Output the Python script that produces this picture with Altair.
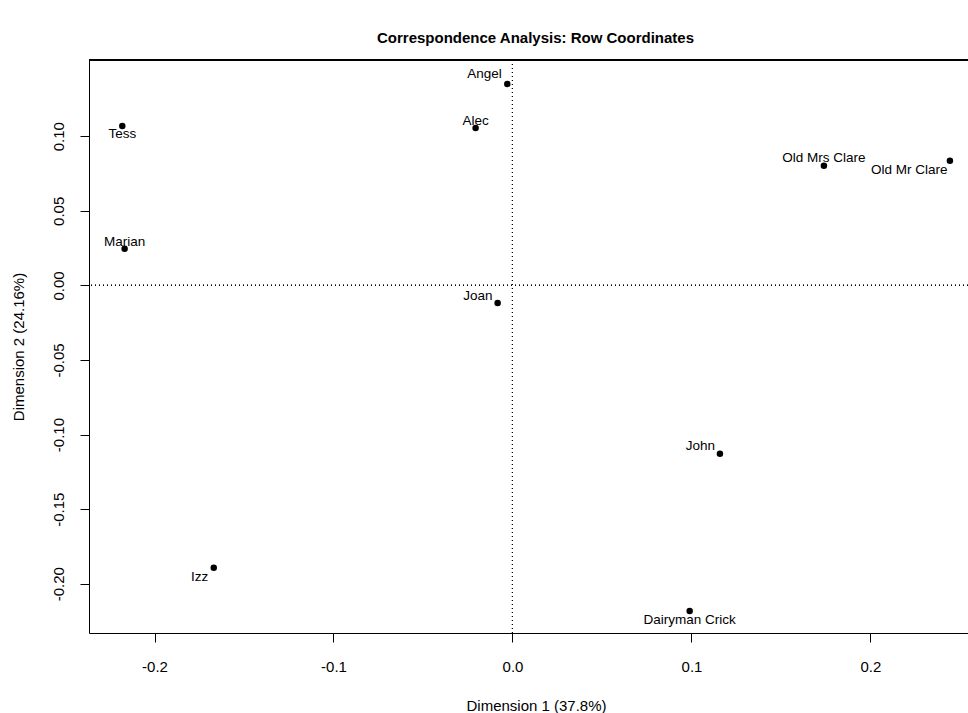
import altair as alt
import pandas as pd

# ---- data ----
names = ["Angel", "Alec", "Tess", "Old Mrs Clare", "Old Mr Clare",
         "Marian", "Joan", "John", "Izz", "Dairyman Crick"]
dim1 = [-0.0029, -0.0206, -0.2180, 0.1740, 0.2444,
        -0.2167, -0.0083, 0.1159, -0.1669, 0.0990]
dim2 = [0.1350, 0.1055, 0.1068, 0.0802, 0.0836,
        0.0246, -0.0118, -0.1128, -0.1892, -0.2182]
x_ticks = [-0.2, -0.1, 0.0, 0.1, 0.2]
y_ticks = [-0.20, -0.15, -0.10, -0.05, 0.00, 0.05, 0.10]
x_domain = [-0.2366, 0.2545]
y_domain = [-0.2330, 0.1511]

title_text = "Correspondence Analysis: Row Coordinates"
x_title = "Dimension 1 (37.8%)"
y_title = "Dimension 2 (24.16%)"

# ---- label placement (style) ----
label_style = {
    "Angel": ("right", -5.6, -10),
    "Alec": ("center", 0, -7),
    "Tess": ("center", 0, 8.3),
    "Old Mrs Clare": ("center", 0, -7.4),
    "Old Mr Clare": ("right", -2.3, 9.3),
    "Marian": ("center", 0, -7),
    "Joan": ("right", -5, -7.3),
    "John": ("right", -5, -7.4),
    "Izz": ("right", -5.4, 9),
    "Dairyman Crick": ("center", 0, 9),
}

FONT = "Liberation Sans"
W, H = 879, 573

df = pd.DataFrame({"name": names, "dim1": dim1, "dim2": dim2})

xs = alt.Scale(domain=x_domain, nice=False, zero=False)
ys = alt.Scale(domain=y_domain, nice=False, zero=False)

x_enc = alt.X(
    "dim1:Q", scale=xs,
    axis=alt.Axis(
        values=x_ticks, format=".1f",
        labelExpr="replace(datum.label, '\u2212', '-')",
        title=x_title, titleX=447, titleY=72,
        titleAlign="center", titleBaseline="middle",
        labelPadding=17,
    ),
)
y_enc = alt.Y(
    "dim2:Q", scale=ys,
    axis=alt.Axis(
        values=y_ticks, format=".2f",
        labelExpr="replace(datum.label, '\u2212', '-')",
        labelAngle=270, labelAlign="center", labelBaseline="bottom",
        labelPadding=14,
        title=y_title, titleX=-71, titleY=H / 2, titleAngle=270,
        titleAlign="center", titleBaseline="middle",
    ),
)

base = alt.Chart(df)

points = base.mark_circle(size=42, color="black", opacity=1).encode(x=x_enc, y=y_enc)

vline = alt.Chart(df).mark_rule(color="black", strokeDash=[1, 3], strokeWidth=1).encode(
    x=alt.datum(0, scale=xs)
)
hline = alt.Chart(df).mark_rule(color="black", strokeDash=[1, 3], strokeWidth=1).encode(
    y=alt.datum(0, scale=ys)
)
top_border = alt.Chart(df).mark_rule(color="black", strokeWidth=1).encode(
    x=alt.value(0), x2=alt.value(W), y=alt.value(0)
)

labels = []
for n in names:
    align, dx, dy = label_style[n]
    labels.append(
        base.transform_filter(alt.datum.name == n)
        .mark_text(align=align, baseline="middle", dx=dx, dy=dy,
                   font=FONT, fontSize=13.5, color="black")
        .encode(x=alt.X("dim1:Q", scale=xs), y=alt.Y("dim2:Q", scale=ys), text="name:N")
    )

chart = (
    alt.layer(vline, hline, top_border, points, *labels)
    .properties(
        width=W, height=H,
        autosize=alt.AutoSizeParams(type="none"),
        padding={"left": 89, "top": 60, "right": 0, "bottom": 80},
        title=alt.TitleParams(
            text=title_text, font=FONT, fontSize=15, fontWeight="bold",
            anchor="middle", dx=7, offset=2, baseline="alphabetic", color="black",
        ),
        background="white",
    )
    .configure_view(stroke=None)
    .configure_axis(
        grid=False, domainColor="black", domainWidth=1,
        tickColor="black", tickSize=9, tickWidth=1,
        labelFont=FONT, labelFontSize=15, labelColor="black",
        titleFont=FONT, titleFontSize=15, titleFontWeight="normal", titleColor="black",
    )
)

chart.save("out.html", embed_options={"renderer": "svg", "actions": False})
